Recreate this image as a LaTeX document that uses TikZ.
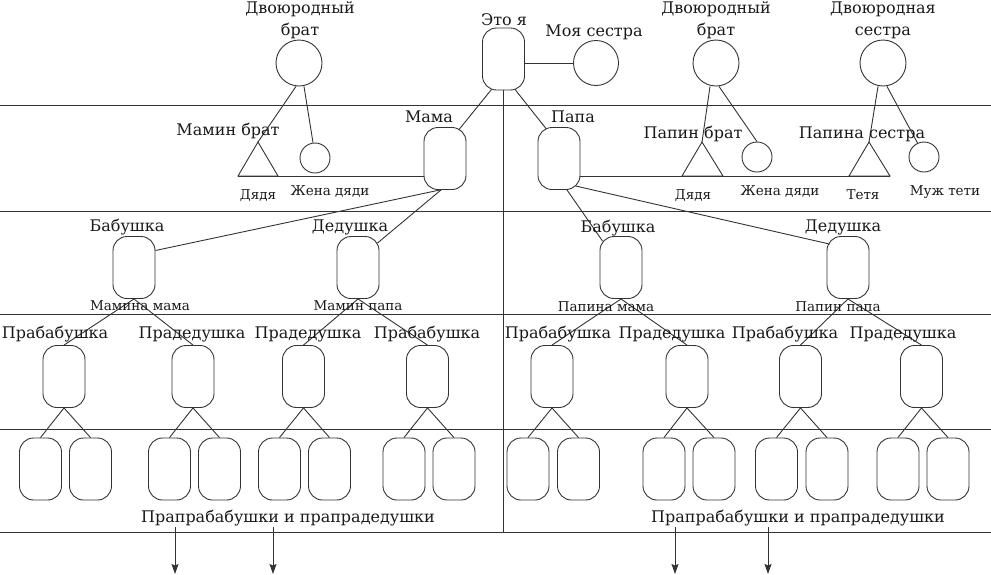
\documentclass[tikz,border=0pt]{standalone}
\usepackage{fontspec}
\setmainfont{DejaVu Serif}
\usetikzlibrary{arrows.meta}
\definecolor{ink}{gray}{0.2}
\definecolor{txt}{gray}{0.1}
\begin{document}
\begin{tikzpicture}[x=1pt,y=-1pt]
\tikzset{
  ln/.style={draw=ink, line width=0.9pt},
  pbox/.style={ln, rounded corners=14pt, minimum width=42pt, minimum height=62pt, inner sep=0pt},
  bcirc/.style={ln, circle, minimum size=46pt, inner sep=0pt},
  scirc/.style={ln, circle, minimum size=30pt, inner sep=0pt},
  big/.style={text=txt, inner sep=0pt, font=\fontsize{16}{20}\selectfont, text height=11.5pt, text depth=0pt},
  small/.style={text=txt, inner sep=0pt, font=\fontsize{13.5}{16}\selectfont, text height=9.7pt, text depth=0pt},
  arr/.style={ln, -{Stealth[length=10pt,width=7pt,inset=1.5pt]}},
}
\useasboundingbox (0,0) rectangle (991,574);
% horizontal separators
\foreach \yy in {105,211,314,429,532} \draw[ln] (0,\yy) -- (991,\yy);

% generation 0
\node[pbox] (me) at (503.5,59) {};
\node[bcirc, minimum size=45pt] (sis) at (596,63) {};
\node[bcirc] (cb1) at (299,63) {};
\node[bcirc] (cb2) at (716,63) {};
\node[bcirc] (cs) at (883,63) {};
\coordinate (bottom) at (503.5,532);
\draw[ln] (me.south) -- (me.south |- bottom);
\draw[ln] (sis.west -| me.east) -- (sis.west);

% generation 1
\node[pbox] (mama) at (445,158.5) {};
\node[pbox] (papa) at (559,158.5) {};
\node[scirc] (w1) at (315,158) {};
\node[scirc] (w2) at (757,157) {};
\node[scirc] (hu) at (924,157) {};
\coordinate (t1a) at (258,142); \coordinate (t1l) at (238,176); \coordinate (t1r) at (278,176);
\coordinate (t2a) at (702,142); \coordinate (t2l) at (682,176); \coordinate (t2r) at (723,176);
\coordinate (t3a) at (869,142); \coordinate (t3l) at (849,176); \coordinate (t3r) at (890,176);
\draw[ln, line join=miter] (t1a) -- (t1l) -- (t1r) -- cycle;
\draw[ln, line join=miter] (t2a) -- (t2l) -- (t2r) -- cycle;
\draw[ln, line join=miter] (t3a) -- (t3l) -- (t3r) -- cycle;

\draw[ln] ([xshift=-12pt,yshift=1pt]me.south) -- ([xshift=14pt,yshift=-2.5pt]mama.north);
\draw[ln] ([xshift=11.5pt,yshift=1pt]me.south) -- ([xshift=-13pt,yshift=-1.5pt]papa.north);
\draw[ln] ([xshift=-3pt]cb1.south) -- (t1a);
\draw[ln] ([xshift=5pt]cb1.south) -- ([xshift=-2pt]w1.north);
\draw[ln] ([xshift=-6pt]cb2.south) -- (t2a);
\draw[ln] ([xshift=3pt]cb2.south) -- (w2.north);
\draw[ln] ([xshift=-5pt]cs.south) -- (t3a);
\draw[ln] ([xshift=4pt]cs.south) -- (hu.115);
\draw[ln] (t1l) -- (t1l -| mama.west);
\draw[ln] (t3r -| papa.east) -- (t3r);

% generation 2
\node[pbox] (mb) at (134,267.5) {};
\node[pbox] (md) at (358,267.5) {};
\node[pbox] (pb) at (621,267.5) {};
\node[pbox] (pd) at (848,267.5) {};
\draw[ln] ([xshift=-5pt]mama.south) -- ([yshift=17pt]mb.east);
\draw[ln] ([xshift=-4pt]mama.south) -- ([xshift=-2pt,yshift=-7pt]md.north east);
\draw[ln] ([xshift=8pt]papa.south) -- ([xshift=3pt,yshift=-5pt]pb.north west);
\draw[ln] ([xshift=-5pt,yshift=4pt]papa.south east) -- ([xshift=3pt,yshift=-8pt]pd.north west);

% generation 3
\foreach \n/\x in {l1/64, l2/193, l3/303.5, l4/427.5, r1/552, r2/687, r3/800.5, r4/921.5}
  \node[pbox] (\n) at (\x,376.5) {};
\foreach \g/\a/\b in {mb/l1/l2, md/l3/l4, pb/r1/r2, pd/r3/r4} {
  \draw[ln] (\g.south) -- (\a.north);
  \draw[ln] (\g.south) -- (\b.north);
}

% generation 4
\foreach \n/\x in {l1-a/40.5, l1-b/90.5, l2-a/169.5, l2-b/219.5, l3-a/279.5, l3-b/329.5, l4-a/404, l4-b/454,
                   r1-a/528, r1-b/578.5, r2-a/664, r2-b/714, r3-a/776.5, r3-b/827, r4-a/898, r4-b/948}
  \node[pbox] (\n) at (\x,469) {};
\foreach \p in {l1,l2,l3,l4,r1,r2,r3,r4} {
  \draw[ln] (\p.south) -- (\p-a.north);
  \draw[ln] (\p.south) -- (\p-b.north);
}

% arrows
\foreach \i/\x in {1/175, 2/273, 3/675, 4/768} {
  \coordinate (as\i) at (\x,527);
  \coordinate (ae\i) at (\x,574);
  \draw[arr] (as\i) -- (ae\i);
}

% labels, big
\node[big] (lme) at (504,20) {Это я};
\node[big] (lsis) at (594,31) {Моя сестра};
\node[big] (lcb1a) at (300,8) {Двоюродный};
\node[big] (lcb1b) at (300,30) {брат};
\node[big] (lcb2a) at (716,8) {Двоюродный};
\node[big] (lcb2b) at (716,30) {брат};
\node[big] (lcsa) at (883,8) {Двоюродная};
\node[big] (lcsb) at (883,30) {сестра};
\node[big] (lub) at (228,130) {Мамин брат};
\node[big] (lmama) at (429,117) {Мама};
\node[big] (lpapa) at (573,117) {Папа};
\node[big] (lpb) at (693,133) {Папин брат};
\node[big] (lps) at (862,133) {Папина сестра};
\node[big] (lmb) at (127,226) {Бабушка};
\node[big] (lmd) at (350,226) {Дедушка};
\node[big] (lpbb) at (618,227) {Бабушка};
\node[big] (lpdd) at (843,226) {Дедушка};
\node[big] (ll1) at (55,333) {Прабабушка};
\node[big] (ll2) at (192,333) {Прадедушка};
\node[big] (ll3) at (308,333) {Прадедушка};
\node[big] (ll4) at (427,333) {Прабабушка};
\node[big] (lr1) at (558,333) {Прабабушка};
\node[big] (lr2) at (672,333) {Прадедушка};
\node[big] (lr3) at (785,333) {Прабабушка};
\node[big] (lr4) at (903,333) {Прадедушка};
\node[big] (lgl) at (288,517) {Прапрабабушки и прапрадедушки};
\node[big] (lgr) at (798,517) {Прапрабабушки и прапрадедушки};

% labels, small
\node[small] (s1) at (258,195) {Дядя};
\node[small] (s2) at (330,191) {Жена дяди};
\node[small] (s3) at (693,195) {Дядя};
\node[small] (s4) at (780,191) {Жена дяди};
\node[small] (s5) at (863,195) {Тетя};
\node[small] (s6) at (945,191) {Муж тети};
\node[small] (s7) at (140,306) {Мамина мама};
\node[small] (s8) at (358,306) {Мамин папа};
\node[small] (s9) at (606,307) {Папина мама};
\node[small] (s10) at (838,307) {Папин папа};
\end{tikzpicture}
\end{document}
